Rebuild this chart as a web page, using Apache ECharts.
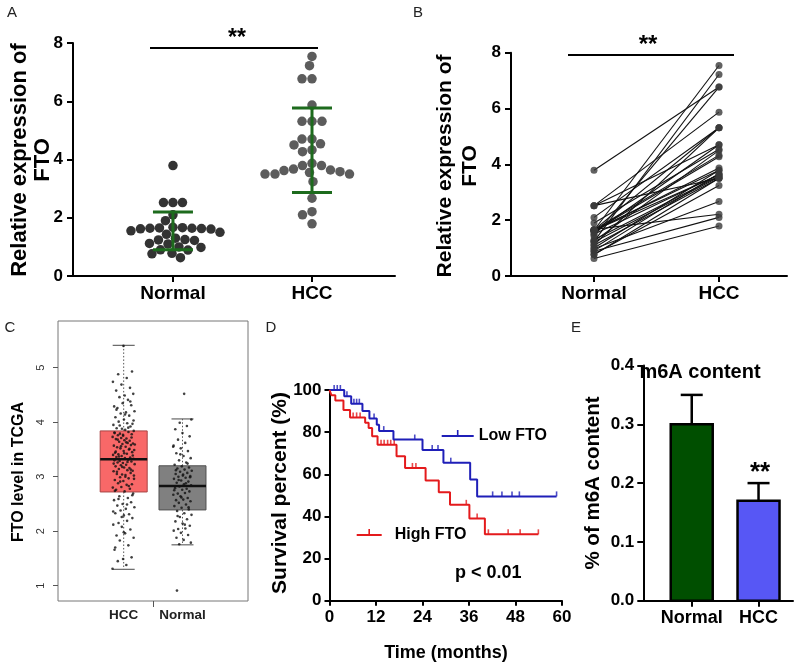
<!DOCTYPE html>
<html><head><meta charset="utf-8">
<script src="https://cdn.jsdelivr.net/npm/echarts@6/dist/echarts.min.js"></script>
<style>html,body{margin:0;padding:0;background:#fff}#c{width:800px;height:667px}</style>
</head><body><div id="c"></div>
<script>
// ---------------- DATA ----------------
// Panels A & B : relative FTO expression (paired, same order)
const groups = ['Normal', 'HCC'];
const normalFTO = [3.79, 2.52, 2.52, 2.52, 2.10, 1.90, 1.64, 1.66, 1.62, 1.65, 1.63, 1.67, 1.61, 1.64, 1.55, 1.50, 1.43, 1.30, 1.24, 1.22, 1.25, 1.12, 1.10, 1.00, 0.98, 0.90, 0.89, 0.78, 0.76, 0.63];
const hccFTO    = [6.77, 5.87, 3.50, 4.70, 5.31, 4.54, 7.54, 4.33, 3.87, 5.31, 3.62, 2.21, 4.27, 3.79, 4.70, 3.64, 6.77, 3.58, 7.22, 3.55, 4.50, 5.31, 3.50, 3.79, 2.67, 3.67, 2.10, 3.24, 3.50, 1.79];
const meanFTO = [1.55, 4.32];
const sdFTO = [0.65, 1.45];
const ftoTicks = [0, 2, 4, 6, 8];

// Panel C : TCGA box plot  [min whisker, Q1, median, Q3, max whisker]
const tcgaGroups = ['HCC', 'Normal'];
const tcgaBox = [[1.30, 2.72, 3.32, 3.84, 5.41], [1.75, 2.39, 2.83, 3.20, 4.06]];
const tcgaHCC = [1.31, 1.38, 1.45, 1.52, 1.49, 1.66, 1.74, 1.83, 1.88, 1.96, 1.92, 2.03, 2.08, 2.12, 2.19, 2.15, 2.24, 2.29, 2.33, 2.31, 2.38, 2.44, 2.41, 2.47, 2.53, 2.50, 2.57, 2.61, 2.64, 2.69,
  2.73, 2.76, 2.78, 2.81, 2.80, 2.85, 2.88, 2.86, 2.92, 2.94, 2.97, 2.99, 3.02, 3.00, 3.05, 3.07, 3.04, 3.10, 3.12, 3.14, 3.11, 3.17, 3.19, 3.16, 3.21, 3.23, 3.22, 3.26, 3.28, 3.25, 3.30, 3.31, 3.29, 3.33,
  3.34, 3.36, 3.35, 3.38, 3.40, 3.42, 3.41, 3.45, 3.47, 3.44, 3.50, 3.52, 3.49, 3.55, 3.54, 3.58, 3.60, 3.57, 3.62, 3.64, 3.61, 3.67, 3.69, 3.66, 3.71, 3.73, 3.70, 3.76, 3.78, 3.75, 3.80, 3.82, 3.79, 3.84,
  3.86, 3.89, 3.92, 3.88, 3.95, 3.98, 4.01, 3.97, 4.05, 4.09, 4.12, 4.16, 4.20, 4.18, 4.26, 4.31, 4.35, 4.29, 4.41, 4.46, 4.52, 4.49, 4.58, 4.63, 4.69, 4.74, 4.81, 4.88, 4.93, 5.40,
  2.74, 2.83, 2.91, 2.96, 3.03, 3.09, 3.13, 3.18, 3.24, 3.27, 3.37, 3.39, 3.43, 3.46, 3.51, 3.56, 3.59, 3.63, 3.68, 3.72, 3.77, 3.81, 3.90, 3.94, 4.03, 4.14, 4.23, 4.38, 2.26, 2.36, 2.49, 2.59, 2.66, 1.98, 1.70];
const tcgaNormal = [1.76, 1.79, 1.84, 1.88, 1.93, 1.97, 2.01, 2.05, 2.04, 2.10, 2.14, 2.18, 2.22, 2.26, 2.30, 2.33, 2.37,
  2.40, 2.43, 2.46, 2.49, 2.52, 2.55, 2.58, 2.57, 2.61, 2.64, 2.67, 2.70, 2.69, 2.73, 2.76, 2.79, 2.78, 2.82,
  2.84, 2.86, 2.89, 2.91, 2.93, 2.96, 2.98, 3.00, 2.99, 3.02, 3.05, 3.07, 3.09, 3.11, 3.13, 3.15, 3.17, 3.19,
  3.22, 3.26, 3.30, 3.34, 3.38, 3.43, 3.47, 3.52, 3.57, 3.62, 3.68, 3.74, 3.80, 3.87, 3.93, 3.99, 4.05, 4.52, 0.91,
  2.44, 2.62, 2.75, 2.88, 2.94, 3.01, 3.04, 3.12, 3.24, 3.41, 3.55, 2.12, 2.28];
const tcgaTicks = [1, 2, 3, 4, 5];

// Panel D : Kaplan-Meier (time in months, survival %)
const lowT  = [0, 3.8, 5.6, 8.5, 10.3, 12.2, 12.8, 16.5, 24.0, 29.4, 36.3, 38.1, 58.6];
const lowS  = [100, 97, 93.5, 90, 86.5, 83.5, 80.5, 76.5, 71.5, 65.5, 57.5, 49.5, 49.5];
const lowCensor = [1.2, 2.0, 2.8, 4.5, 6.3, 7.0, 7.7, 11.5, 14.0, 22.0, 26.5, 28.0, 31.3, 42.1, 44.5, 47.1, 49.0, 58.6];
const highT = [0, 0.5, 1.5, 3.6, 5.3, 9.2, 10.1, 11.0, 12.4, 17.3, 19.5, 24.8, 28.2, 31.1, 36.1, 40.1, 53.9];
const highS = [100, 97.5, 95, 90.5, 87, 84.5, 82, 78, 74, 68.5, 63, 57, 51.5, 45.5, 39, 31.5, 31.5];
const highCensor = [6.1, 7.0, 7.9, 13.3, 14.1, 15.0, 15.8, 16.7, 21.4, 22.3, 35.3, 38.1, 41.0, 46.1, 49.2, 53.9];
const monthTicks = [0, 12, 24, 36, 48, 60];
const survTicks = [0, 20, 40, 60, 80, 100];

// Panel E : m6A content
const m6aGroups = ['Normal', 'HCC'];
const m6aMean = [0.30, 0.17];
const m6aSD = [0.05, 0.03];
const m6aTicks = [0, 0.1, 0.2, 0.3, 0.4];

// ---------------- LAYOUT / STYLE ----------------
const FONT = "'Liberation Sans', Arial, Helvetica, sans-serif";
const chart = echarts.init(document.getElementById('c'), null, {renderer: 'canvas', width: 800, height: 667});

const G = [
  {left: 73, top: 43, width: 322, height: 233},
  {left: 511, top: 52.7, width: 276, height: 223.3},
  {left: 58, top: 321, width: 190, height: 280, show: true, borderColor: '#777', borderWidth: 1},
  {left: 329.5, top: 390, width: 232.5, height: 210.7},
  {left: 643.3, top: 365.5, width: 149.7, height: 235.2}
];
const XR = [[-0.719, 1.597], [-0.664, 1.544], [-1.117, 2.114], [0, 60], [-0.725, 1.516]];

// beeswarm offsets (layout only) computed from the values
function swarm(values, pxPerY, pxPerX, dist) {
  const order = values.map((v, i) => i).sort((a, b) => values[b] - values[a]);
  const placed = [], off = new Array(values.length);
  for (const i of order) {
    const y = values[i] * pxPerY;
    let best = 0;
    for (let k = 0; k < 600; k++) {
      const c = (k % 2 === 0 ? 1 : -1) * Math.ceil(k / 2) * 0.5;
      let ok = true;
      for (const p of placed) { const dx = c - p.x, dy = y - p.y; if (dx * dx + dy * dy < dist * dist) { ok = false; break; } }
      if (ok) { best = c; break; }
    }
    placed.push({x: best, y});
    off[i] = best / pxPerX;
  }
  return off;
}
const aPxY = G[0].height / 8, aPxX = G[0].width / (XR[0][1] - XR[0][0]);
const offN = swarm(normalFTO, aPxY, aPxX, 9.4);
const offH = swarm(hccFTO, aPxY, aPxX, 9.6);

// deterministic jitter for panel C (layout only)
const jit = i => ((i * 0.6180339887) % 1) - 0.5;

function survAt(T, S, t) { let s = S[0]; for (let k = 0; k < T.length; k++) if (T[k] <= t) s = S[k]; return s; }

const lab = (size, extra) => Object.assign({color: '#000', fontWeight: 'bold', fontFamily: FONT, fontSize: size}, extra || {});
const blackLine = {show: true, onZero: false, lineStyle: {color: '#000', width: 2}};
const blackTick = (len, extra) => Object.assign({show: true, length: len, lineStyle: {color: '#000', width: 2}}, extra || {});

const xAxes = [
  {gridIndex: 0, type: 'value', min: XR[0][0], max: XR[0][1], axisLine: blackLine, splitLine: {show: false},
   axisTick: blackTick(6, {customValues: [0, 1]}), axisLabel: lab(19, {customValues: [0, 1], margin: 8, formatter: v => groups[Math.round(v)]})},
  {gridIndex: 1, type: 'value', min: XR[1][0], max: XR[1][1], axisLine: blackLine, splitLine: {show: false},
   axisTick: blackTick(6, {customValues: [0, 1]}), axisLabel: lab(19, {customValues: [0, 1], margin: 8, formatter: v => groups[Math.round(v)]})},
  {gridIndex: 2, type: 'value', min: XR[2][0], max: XR[2][1], axisLine: {show: false, onZero: false}, splitLine: {show: false},
   axisTick: {show: true, length: 6, customValues: [0.5], lineStyle: {color: '#555', width: 1}},
   axisLabel: lab(13.5, {customValues: [0, 1], margin: 7, color: '#222', formatter: v => tcgaGroups[Math.round(v)]})},
  {gridIndex: 3, type: 'value', min: 0, max: 60, interval: 12, axisLine: blackLine, splitLine: {show: false},
   axisTick: blackTick(5), axisLabel: lab(17, {margin: 8})},
  {gridIndex: 4, type: 'value', min: XR[4][0], max: XR[4][1], axisLine: blackLine, splitLine: {show: false},
   axisTick: blackTick(6, {customValues: [0, 1]}), axisLabel: lab(18, {customValues: [0, 1], margin: 8, formatter: v => m6aGroups[Math.round(v)]})}
];
const yAxes = [
  {gridIndex: 0, type: 'value', min: 0, max: 8, interval: 2, axisLine: blackLine, splitLine: {show: false},
   axisTick: blackTick(6), axisLabel: lab(17, {margin: 10})},
  {gridIndex: 1, type: 'value', min: 0, max: 8, interval: 2, axisLine: blackLine, splitLine: {show: false},
   axisTick: blackTick(6), axisLabel: lab(17, {margin: 10})},
  {gridIndex: 2, type: 'value', min: 0.719, max: 5.857, axisLine: {show: false, onZero: false}, splitLine: {show: false},
   axisTick: {show: true, length: 5, customValues: tcgaTicks, lineStyle: {color: '#555', width: 1}},
   axisLabel: {customValues: tcgaTicks, rotate: 90, margin: 12, color: '#333', fontFamily: FONT, fontSize: 11}},
  {gridIndex: 3, type: 'value', min: 0, max: 100, interval: 20, axisLine: blackLine, splitLine: {show: false},
   axisTick: blackTick(5), axisLabel: lab(17, {margin: 8})},
  {gridIndex: 4, type: 'value', min: 0, max: 0.4, interval: 0.1, axisLine: blackLine, splitLine: {show: false},
   axisTick: blackTick(6), axisLabel: lab(17, {margin: 9, formatter: v => v.toFixed(1)})}
];

const series = [];
// ---- A ----
series.push({type: 'scatter', xAxisIndex: 0, yAxisIndex: 0, symbolSize: 9.5, itemStyle: {color: '#000'},
  data: normalFTO.map((v, i) => [offN[i], v])});
series.push({type: 'scatter', xAxisIndex: 0, yAxisIndex: 0, symbolSize: 9.5, itemStyle: {color: '#333'},
  data: hccFTO.map((v, i) => [1 + offH[i], v])});
series.push({type: 'custom', xAxisIndex: 0, yAxisIndex: 0, z: 5,
  data: meanFTO.map((m, i) => [i, m, sdFTO[i]]),
  renderItem: (p, api) => {
    const i = api.value(0), m = api.value(1), s = api.value(2);
    const t = api.coord([i, m + s]), b = api.coord([i, m - s]), hw = 20;
    const st = {stroke: '#1d6b1d', lineWidth: 3};
    return {type: 'group', children: [
      {type: 'line', shape: {x1: t[0], y1: t[1], x2: b[0], y2: b[1]}, style: st},
      {type: 'line', shape: {x1: t[0] - hw, y1: t[1], x2: t[0] + hw, y2: t[1]}, style: st},
      {type: 'line', shape: {x1: b[0] - hw, y1: b[1], x2: b[0] + hw, y2: b[1]}, style: st}
    ]};
  }});
// ---- B ----
series.push({type: 'custom', xAxisIndex: 1, yAxisIndex: 1,
  data: normalFTO.map((v, i) => [v, hccFTO[i]]),
  renderItem: (p, api) => {
    const a = api.coord([0, api.value(0)]), b = api.coord([1, api.value(1)]);
    return {type: 'line', shape: {x1: a[0], y1: a[1], x2: b[0], y2: b[1]}, style: {stroke: '#111', lineWidth: 1.1}};
  }});
series.push({type: 'scatter', xAxisIndex: 1, yAxisIndex: 1, symbolSize: 7, itemStyle: {color: '#3a3a3a'},
  data: normalFTO.map(v => [0, v]).concat(hccFTO.map(v => [1, v]))});
// ---- C ----
const boxFill = ['#f86868', '#808080'], boxStroke = ['#a84444', '#505050'];
series.push({type: 'custom', xAxisIndex: 2, yAxisIndex: 2,
  data: tcgaBox.map((b, i) => [i].concat(b)),
  renderItem: (p, api) => {
    const i = api.value(0);
    const cx = api.coord([i, 0])[0];
    const y = [1, 2, 3, 4, 5].map(d => api.coord([i, api.value(d)])[1]);
    const hw = 23.5, cw = 11, k = p.dataIndex;
    const ds = {stroke: '#555', lineWidth: 1, lineDash: [1.5, 2]};
    const cs = {stroke: '#666', lineWidth: 1.2};
    return {type: 'group', children: [
      {type: 'line', shape: {x1: cx, y1: y[3], x2: cx, y2: y[4]}, style: ds},
      {type: 'line', shape: {x1: cx, y1: y[1], x2: cx, y2: y[0]}, style: ds},
      {type: 'line', shape: {x1: cx - cw, y1: y[4], x2: cx + cw, y2: y[4]}, style: cs},
      {type: 'line', shape: {x1: cx - cw, y1: y[0], x2: cx + cw, y2: y[0]}, style: cs},
      {type: 'rect', shape: {x: cx - hw, y: y[3], width: 2 * hw, height: y[1] - y[3]}, style: {fill: boxFill[k], stroke: boxStroke[k], lineWidth: 1}},
      {type: 'line', shape: {x1: cx - hw, y1: y[2], x2: cx + hw, y2: y[2]}, style: {stroke: '#111', lineWidth: 2.5}}
    ]};
  }});
series.push({type: 'scatter', xAxisIndex: 2, yAxisIndex: 2, symbolSize: 2.6, z: 4, itemStyle: {color: '#111'},
  data: tcgaHCC.map((v, i) => [0 + jit(i) * 0.38, v])});
series.push({type: 'scatter', xAxisIndex: 2, yAxisIndex: 2, symbolSize: 2.6, z: 4, itemStyle: {color: '#111'},
  data: tcgaNormal.map((v, i) => [1 + jit(i + 7) * 0.32, v])});
// ---- D ----
const BLUE = '#1f1fb8', RED = '#e41a1c';
series.push({name: 'Low FTO', type: 'line', xAxisIndex: 3, yAxisIndex: 3, step: 'end', symbol: 'none',
  lineStyle: {color: BLUE, width: 2}, itemStyle: {color: BLUE}, data: lowT.map((t, i) => [t, lowS[i]])});
series.push({name: 'High FTO', type: 'line', xAxisIndex: 3, yAxisIndex: 3, step: 'end', symbol: 'none',
  lineStyle: {color: RED, width: 2}, itemStyle: {color: RED}, data: highT.map((t, i) => [t, highS[i]])});
series.push({name: 'low-censor', type: 'scatter', xAxisIndex: 3, yAxisIndex: 3, symbol: 'rect', symbolSize: [1.6, 5], symbolOffset: [0, -2.5],
  itemStyle: {color: BLUE}, data: lowCensor.map(t => [t, survAt(lowT, lowS, t)])});
series.push({name: 'high-censor', type: 'scatter', xAxisIndex: 3, yAxisIndex: 3, symbol: 'rect', symbolSize: [1.6, 5], symbolOffset: [0, -2.5],
  itemStyle: {color: RED}, data: highCensor.map(t => [t, survAt(highT, highS, t)])});
// ---- E ----
const barFill = ['#004f00', '#5757f5'];
series.push({type: 'custom', xAxisIndex: 4, yAxisIndex: 4,
  data: m6aMean.map((m, i) => [i, m, m6aSD[i]]),
  renderItem: (p, api) => {
    const i = api.value(0), m = api.value(1), s = api.value(2);
    const b = api.coord([i, 0]), t = api.coord([i, m]), e = api.coord([i, m + s]);
    const hw = 21, cw = 11, st = {stroke: '#000', lineWidth: 2.5};
    return {type: 'group', children: [
      {type: 'line', shape: {x1: t[0], y1: t[1], x2: e[0], y2: e[1]}, style: st},
      {type: 'line', shape: {x1: e[0] - cw, y1: e[1], x2: e[0] + cw, y2: e[1]}, style: st},
      {type: 'rect', shape: {x: b[0] - hw, y: t[1], width: 2 * hw, height: b[1] - t[1]}, style: {fill: barFill[p.dataIndex], stroke: '#000', lineWidth: 2.5}}
    ]};
  }});

// ---------------- annotations ----------------
const gfx = [];
function txt(x, y, text, size, o) {
  o = o || {};
  gfx.push({type: 'text', x, y, rotation: o.rot || 0, silent: true, z: 100,
    style: {text, fill: o.color || '#000', font: (o.weight || 'bold') + ' ' + size + 'px ' + FONT,
      align: o.align || 'center', verticalAlign: o.va || 'middle', lineHeight: o.lh}});
}
function ln(x1, y1, x2, y2, w) { gfx.push({type: 'line', silent: true, z: 100, shape: {x1, y1, x2, y2}, style: {stroke: '#000', lineWidth: w || 2}}); }
const R = Math.PI / 2;
// panel letters
txt(12, 12.5, 'A', 15, {weight: 'normal', color: '#222'});
txt(418, 12.5, 'B', 15, {weight: 'normal', color: '#222'});
txt(10, 328, 'C', 15, {weight: 'normal', color: '#222'});
txt(271, 328, 'D', 15, {weight: 'normal', color: '#222'});
txt(576, 328, 'E', 15, {weight: 'normal', color: '#222'});
// A
txt(31.5, 160, 'Relative expression of\nFTO', 22, {rot: R, lh: 23});
ln(150, 48, 318, 48, 2);
txt(237, 39, '**', 23);
// B
txt(457.5, 166, 'Relative expression of\nFTO', 21, {rot: R, lh: 25});
ln(568, 55, 734, 55, 2);
txt(648, 45.5, '**', 24);
// C
txt(19, 472, 'FTO level in TCGA', 16, {rot: R});
// D
txt(280, 493, 'Survival percent (%)', 21, {rot: R});
txt(446, 653, 'Time (months)', 18);
txt(455, 573, 'p < 0.01', 18, {align: 'left'});
// E
txt(593, 483, '% of m6A content', 20.5, {rot: R});
txt(700, 372, 'm6A content', 20);
txt(760, 473, '**', 26);

const ICON_LOW = 'path://M0,5H32V7H0Z M15.2,0H16.8V5H15.2Z M0,12L0.01,12Z';
const ICON_HIGH = 'path://M0,5H25V7H0Z M11.7,0H13.3V5H11.7Z M33,12L33.01,12Z';
const legTxt = {color: '#000', fontWeight: 'bold', fontFamily: FONT, fontSize: 16};

chart.setOption({
  animation: false,
  backgroundColor: '#fff',
  grid: G.map(g => Object.assign({outerBoundsMode: 'none', containLabel: false}, g)),
  xAxis: xAxes,
  yAxis: yAxes,
  legend: [
    {data: [{name: 'Low FTO', icon: ICON_LOW, itemStyle: {color: BLUE, borderWidth: 0}}], left: 441.7, top: 428,
     itemWidth: 32, itemHeight: 12, padding: 0, selectedMode: false, textStyle: legTxt},
    {data: [{name: 'High FTO', icon: ICON_HIGH, itemStyle: {color: RED, borderWidth: 0}}], left: 356.7, top: 527,
     itemWidth: 33, itemHeight: 12, padding: 0, selectedMode: false, textStyle: legTxt}
  ],
  series,
  graphic: gfx
});
</script>
</body></html>
